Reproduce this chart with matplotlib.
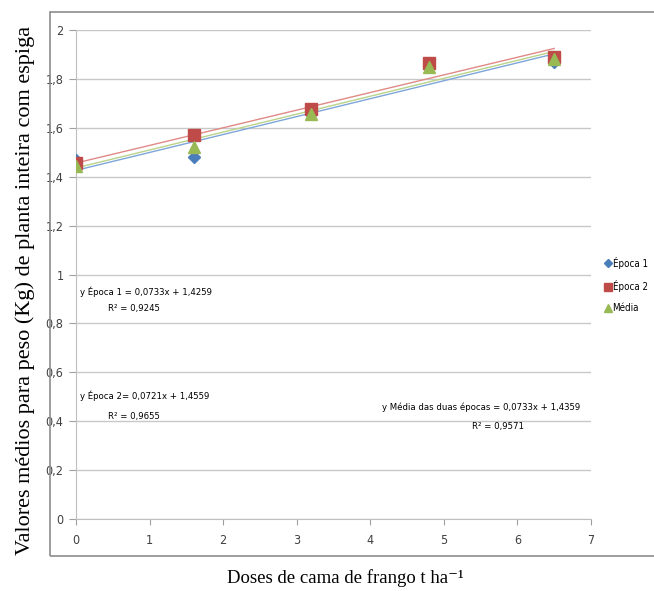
import numpy as np
import matplotlib
matplotlib.use("Agg")
import matplotlib.pyplot as plt
from matplotlib.patches import Rectangle

doses = [0, 1.6, 3.2, 4.8, 6.5]
epoca1 = [1.47, 1.48, 1.655, 1.855, 1.87]
epoca2 = [1.455, 1.57, 1.675, 1.865, 1.89]
media = [1.445, 1.52, 1.655, 1.85, 1.88]
series_names = ["Época 1", "Época 2", "Média"]
slopes = [0.0733, 0.0721, 0.0733]
intercepts = [1.4259, 1.4559, 1.4359]
r2_values = ["0,9245", "0,9655", "0,9571"]
eq_labels = ["y Época 1 = 0,0733x + 1,4259",
             "y Época 2= 0,0721x + 1,4559",
             "y Média das duas épocas = 0,0733x + 1,4359"]
yticks = [0, 0.2, 0.4, 0.6, 0.8, 1, 1.2, 1.4, 1.6, 1.8, 2]
ytick_labels = ["0", "0,2", "0,4", "0,6", "0,8", "1", "1,2", "1,4", "1,6", "1,8", "2"]
xticks = [0, 1, 2, 3, 4, 5, 6, 7]

narrow = ["Liberation Sans Narrow", "DejaVu Sans"]
serif = ["Liberation Serif", "DejaVu Serif"]
tkw = dict(fontfamily=narrow, fontstretch="condensed")

W, H = 654, 591
fig = plt.figure(figsize=(W/100, H/100), dpi=100)
ax = fig.add_axes([76/W, (H-519)/H, 515/W, 489/H])

# outer frame
fig.patches.append(Rectangle((50/W, (H-556)/H), 700/W, 544/H, transform=fig.transFigure,
                             fill=False, edgecolor="#8c8c8c", linewidth=1.2))

cols = ["#4A7EBB", "#BE4B48", "#98B954"]
lcols = ["#7EA6DA", "#E08A88", "#B9D38A"]
markers = ["D", "s", "^"]
msz = [6, 8, 8.5]
for data, c, m, ms, name in zip([epoca1, epoca2, media], cols, markers, msz, series_names):
    ax.plot(doses, data, linestyle="none", marker=m, markersize=ms, color=c, label=name, zorder=3)
xx = np.array([doses[0], doses[-1]])
for a, b, lc in zip(slopes, intercepts, lcols):
    ax.plot(xx, a*xx + b, color=lc, linewidth=1.0, zorder=2)

ax.set_xlim(0, 7)
ax.set_ylim(0, 2)
ax.set_yticks(yticks)
ax.set_yticklabels(ytick_labels, fontsize=9, color="#404040", **tkw)
ax.set_xticks(xticks)
ax.set_xticklabels([str(t) for t in xticks], fontsize=9, color="#404040", **tkw)
ax.tick_params(axis="y", length=5, color="#a0a0a0", pad=4)
ax.tick_params(axis="x", length=4, color="#a0a0a0", pad=7)
ax.grid(axis="y", color="#c8c8c8", linewidth=1.0)
ax.set_axisbelow(True)
for s in ["top", "right"]:
    ax.spines[s].set_visible(False)
for s in ["left", "bottom"]:
    ax.spines[s].set_color("#bfbfbf")

fig.text(25/W, 1-290/H, "Valores médios para peso (Kg) de planta inteira com espiga",
         rotation=90, ha="center", va="center", fontfamily=serif, fontsize=16)
fig.text(345/W, 1-578/H, "Doses de cama de frango t ha⁻¹", ha="center", va="center",
         fontfamily=serif, fontsize=13.5)

efs = 6.8
# equation 1
ax.text(0.05, 0.928, eq_labels[0], fontsize=efs, va="center", ha="left", **tkw)
ax.text(0.79, 0.862, "R² = " + r2_values[0], fontsize=efs, va="center", ha="center", **tkw)
# equation 2
ax.text(0.05, 0.503, eq_labels[1], fontsize=efs, va="center", ha="left", **tkw)
ax.text(0.79, 0.421, "R² = " + r2_values[1], fontsize=efs, va="center", ha="center", **tkw)
# equation media
ax.text(6.86, 0.458, eq_labels[2], fontsize=efs, va="center", ha="right", **tkw)
ax.text(5.74, 0.380, "R² = " + r2_values[2], fontsize=efs, va="center", ha="center", **tkw)

leg = fig.legend(loc="upper left", bbox_to_anchor=(599/W, 1-253/H), frameon=False,
                 prop={"family": narrow, "size": 7, "stretch": "condensed"},
                 handletextpad=0.0, handlelength=1.0, borderaxespad=0,
                 labelspacing=1.15, markerscale=0.7)

fig.savefig("out.png", dpi=100)
